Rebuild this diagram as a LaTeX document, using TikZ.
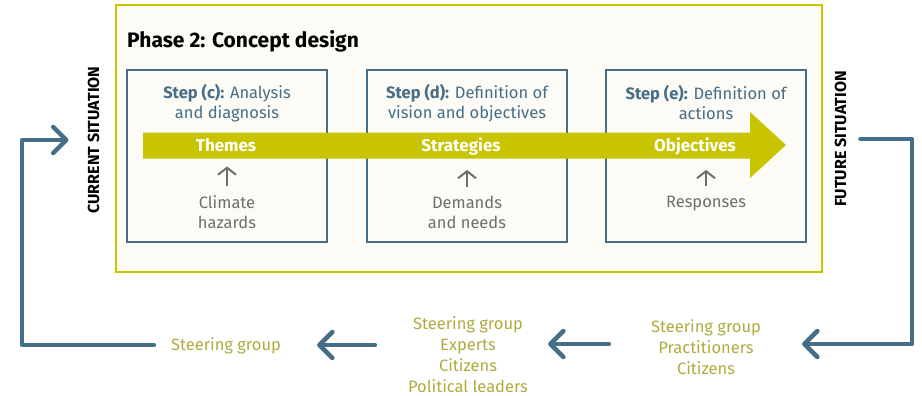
\documentclass[tikz,border=0pt]{standalone}
\usepackage{fontspec}
\setmainfont{Fira Sans}
\usetikzlibrary{arrows.meta}

\definecolor{limey}{HTML}{C8C400}
\definecolor{cream}{HTML}{FCFBF5}
\definecolor{steel}{HTML}{466E88}
\definecolor{actorcol}{HTML}{B0AB3C}
\definecolor{slate}{HTML}{6E6E6E}

\tikzset{
	stepbox/.style={draw=steel, line width=2.5pt, minimum width=200pt, minimum height=172pt, inner sep=0pt},
	steptitle/.style={text=steel, align=center, inner sep=0pt, font=\fontsize{16.5}{20}\selectfont},
	bandlabel/.style={text=white, inner sep=0pt, anchor=base, font=\bfseries\fontsize{17}{20}\selectfont},
	input/.style={text=slate, align=center, inner sep=0pt, font=\fontsize{16.5}{20}\selectfont},
	situation/.style={rotate=90, anchor=base, inner sep=0pt, font=\bfseries\fontsize{16}{18}\selectfont},
	actors/.style={text=actorcol, align=center, inner sep=0pt, font=\fontsize{16.5}{21}\selectfont},
	flow/.style={draw=steel, line width=4.5pt, line cap=round, line join=round, -{Straight Barb[round, length=13pt, width=26pt]}},
	feed/.style={draw=slate, line width=2pt, -{Straight Barb[length=7pt, width=18pt]}}
}

\begin{document}
\begin{tikzpicture}[x=1pt, y=-1pt]
	\useasboundingbox (0,0) rectangle (922,396);

	% phase frame
	\node[draw=limey, fill=cream, line width=2pt, minimum width=706pt, minimum height=267pt, inner sep=0pt] (phase) at (469,138.5) {};
	\node[anchor=base west, inner sep=0pt, font=\bfseries\fontsize{21}{24}\selectfont] (title) at (127,48) {Phase 2: Concept design};

	% steps
	\node[stepbox] (stepc) at (227,156) {};
	\node[stepbox] (stepd) at (467,156) {};
	\node[stepbox] (stepe) at (706,156) {};

	\node[steptitle] (titlec) at (227,103) {\textbf{Step (c):} Analysis\\and diagnosis};
	\node[steptitle] (titled) at (467,103) {\textbf{Step (d):} Definition of\\vision and objectives};
	\node[steptitle] (titlee) at (706,103) {\textbf{Step (e):} Definition of\\actions};

	% main band
	\fill[limey] (143,132.5) -- (750,132.5) -- (750,112) -- (786,145) -- (750,178) -- (750,158.5) -- (143,158.5) -- cycle;

	\node[bandlabel] (themes) at (226,151) {Themes};
	\node[bandlabel] (strategies) at (461,151) {Strategies};
	\node[bandlabel] (objectives) at (695,151) {Objectives};

	% inputs
	\node[input] (climate) at (227,212) {Climate\\hazards};
	\node[input] (demands) at (467,212) {Demands\\and needs};
	\node[input] (responses) at (706,204) {Responses};

	\draw[feed, shorten <=9pt, shorten >=15pt] (climate.north) -- (climate.north |- themes.south);
	\draw[feed, shorten <=9pt, shorten >=15pt] (demands.north) -- (demands.north |- strategies.south);
	\draw[feed, shorten <=10pt, shorten >=15pt] (responses.north) -- (responses.north |- objectives.south);

	% situations
	\node[situation] (current) at (99,140) {CURRENT SITUATION};
	\node[situation] (future) at (846,139) {FUTURE SITUATION};

	% actors
	\node[actors] (steerA) at (226,346) {Steering group};
	\node[actors] (steerB) at (468,355) {Steering group\\Experts\\Citizens\\Political leaders};
	\node[actors] (steerC) at (706,347) {Steering group\\Practitioners\\Citizens};

	\coordinate (backturn) at (22,343);
	\coordinate (fwdturn) at (912,139);

	% loop back and forth
	\draw[flow, shorten <=14pt, shorten >=41pt] (future.south) -| (fwdturn) |- ([yshift=3pt]steerC.east);
	\draw[flow, shorten <=42pt, shorten >=20pt] ([yshift=3pt]steerC.west) -- ([yshift=3pt]steerC.west -| steerB.east);
	\draw[flow, shorten <=33pt, shorten >=36pt] ([yshift=1pt]steerA.east -| steerB.west) -- ([yshift=1pt]steerA.east);
	\draw[flow, shorten <=17pt, shorten >=19pt] ([yshift=1pt]steerA.west) -| (backturn) |- (current.north);

\end{tikzpicture}
\end{document}
